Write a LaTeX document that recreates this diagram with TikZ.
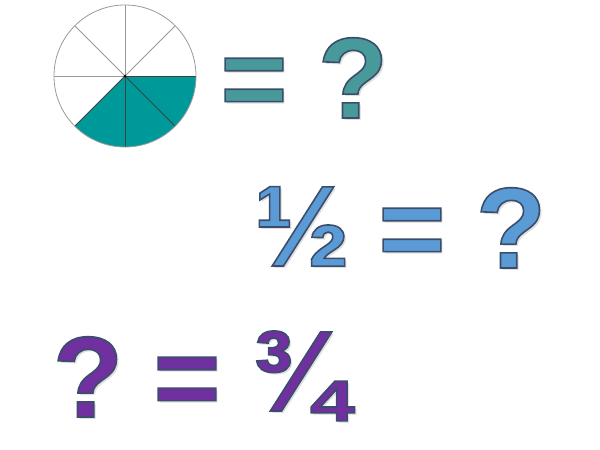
\documentclass[tikz,border=0pt]{standalone}
\usepackage{fontspec}
\setmainfont{Liberation Sans}
\usepackage{xcolor}
\usetikzlibrary{calc}
\definecolor{outl}{HTML}{3A4E6C}
\definecolor{tealtxt}{HTML}{48999A}
\definecolor{bluetxt}{HTML}{5B9BD5}
\definecolor{purptxt}{HTML}{7030A0}
\definecolor{piefill}{HTML}{009999}
\definecolor{shadowc}{HTML}{B8B8B8}
\newcommand{\outlined}[2]{{\color{#1}\special{pdf:code 2 Tr 1.6 w 0.227 0.306 0.424 RG}#2\special{pdf:code 0 Tr}}}
\tikzset{
  glyph/.style={inner sep=0pt, anchor=base, font=\fontsize{115}{120}\bfseries\selectfont},
  shadow/.style={glyph, text=shadowc, opacity=0.45},
  pieline/.style={draw=gray!80, line width=0.8pt},
  piedark/.style={draw=black!75, line width=0.8pt}
}
\begin{document}
\begin{tikzpicture}[x=1pt,y=-1pt]
\useasboundingbox (0,0) rectangle (600,450);
% pie
\coordinate (pc) at (125,76);
\fill[piefill] (pc) -- ++(0:71) arc[start angle=0,end angle=135,radius=71] -- cycle;
\foreach \a in {180,225,270,315}{\draw[pieline] (pc) -- ++(\a:71);}
\foreach \a in {0,45,90,135}{\draw[piedark] (pc) -- ++(\a:71);}
\draw[pieline] (pc) circle[radius=71];
\fill[black] (pc) circle[radius=1.5];
% shadows
\node[shadow] (s1) at (256.5,120.5) {=};
\node[shadow] (s2) at (355.5,120.5) {?};
\node[shadow] (s3) at (304.5,268.5) {½};
\node[shadow] (s4) at (414.5,270.5) {=};
\node[shadow] (s5) at (513.5,270.5) {?};
\node[shadow] (s6) at (90.5,419.5) {?};
\node[shadow] (s7) at (189.5,419.5) {=};
\node[shadow] (s8) at (301.5,413.5) {¾};
% row 1
\node[glyph] (eq1) at (254,118) {\outlined{tealtxt}{=}};
\node[glyph] (q1) at (353,118) {\outlined{tealtxt}{?}};
% row 2
\node[glyph] (half) at (302,266) {\outlined{bluetxt}{½}};
\node[glyph] (eq2) at (412,268) {\outlined{bluetxt}{=}};
\node[glyph] (q2) at (511,268) {\outlined{bluetxt}{?}};
% row 3
\node[glyph] (q3) at (88,417) {\outlined{purptxt}{?}};
\node[glyph] (eq3) at (187,417) {\outlined{purptxt}{=}};
\node[glyph] (tq) at (299,411) {\outlined{purptxt}{¾}};
\end{tikzpicture}
\end{document}
